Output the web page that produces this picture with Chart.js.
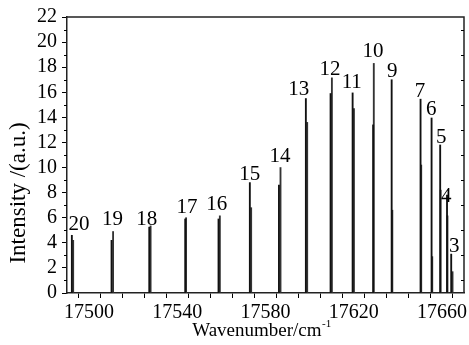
<!DOCTYPE html>
<html><head><meta charset="utf-8">
<script src="https://cdn.jsdelivr.net/npm/chart.js@4.4.0/dist/chart.umd.min.js"></script>
<style>html,body{margin:0;padding:0;background:#fff}#wrap{width:469px;height:345px}</style>
</head><body><div id="wrap"><canvas id="c" width="469" height="345"></canvas></div>
<script>
// Rotational line numbers (J) of each stick pair
const lineNames = ['20','19','18','17','16','15','14','13','12','11','10','9','7','6','5','4','3'];
// Stick A (left/first component)
const posA = [17492.2,17510.2,17527.3,17543.6,17558.7,17572.9,17586.1,17598.3,17609.5,17619.5,17628.8,17637.2,17650.3,17655.3,17659.2,17662.3,17664.2];
const intA = [4.6,4.2,5.25,5.9,5.9,8.8,8.6,15.5,15.9,15.95,13.4,17.0,15.45,13.95,11.8,7.8,3.1];
// Stick B (second component)
const posB = [17492.8,17510.9,17527.9,17544.0,17559.3,17573.5,17586.8,17598.9,17610.1,17620.1,17629.1,17637.5,17650.6,17655.6,17659.4,17662.5,17664.8];
const intB = [4.2,4.9,5.35,6.0,6.15,6.8,10.0,13.6,17.15,14.7,18.3,6.6,10.2,2.9,8.2,6.15,1.7];
// Label anchor (wavenumber, intensity of label baseline)
const labelX = [17495.4,17510.6,17526.2,17544.4,17557.9,17572.9,17586.6,17595.1,17609.2,17619.1,17628.7,17637.5,17650.0,17655.2,17659.7,17662.0,17665.6];
const labelY = [5.04,5.43,5.43,6.4,6.63,9.0,10.45,15.77,17.35,16.33,18.8,17.2,15.6,14.18,11.96,7.26,3.29];
// Axes
const xMin = 17490, xMax = 17670, xStep = 10, xLabelStep = 40, xLabelStart = 17500;
const yMin = 0, yMax = 22, yStep = 1, yLabelStep = 2;
const xTitle = 'Wavenumber/cm', xTitleSup = '-1';
const yTitle = 'Intensity /(a.u.)';

const SERIF = '"Liberation Serif", "Times New Roman", serif';

const frame = {
  id: 'frame',
  afterDraw(chart) {
    const ctx = chart.ctx, a = chart.chartArea;
    const xs = chart.scales.x, ys = chart.scales.y;
    ctx.save();
    ctx.strokeStyle = '#222';
    ctx.lineWidth = 1.5;
    ctx.beginPath();
    ctx.moveTo(a.left, a.top); ctx.lineTo(a.right, a.top); ctx.lineTo(a.right, a.bottom);
    ctx.stroke();
    ctx.lineWidth = 1;
    ctx.strokeStyle = '#000';
    // left minor ticks (outward, short)
    for (let v = yMin + 1; v < yMax; v += 2) {
      const py = Math.round(ys.getPixelForValue(v)) + 0.5;
      ctx.beginPath(); ctx.moveTo(a.left, py); ctx.lineTo(a.left - 3, py); ctx.stroke();
    }
    // right mirror ticks (inward)
    for (let v = yMin + 1; v < yMax; v += 2) {
      const py = Math.round(ys.getPixelForValue(v)) + 0.5;
      ctx.beginPath(); ctx.moveTo(a.right, py); ctx.lineTo(a.right - 3, py); ctx.stroke();
    }
    // line number labels
    ctx.fillStyle = '#000';
    ctx.font = '21px ' + SERIF;
    ctx.textAlign = 'center';
    ctx.textBaseline = 'alphabetic';
    lineNames.forEach((n, i) => {
      ctx.fillText(n, xs.getPixelForValue(labelX[i]), ys.getPixelForValue(labelY[i]));
    });
    // x title with superscript
    ctx.font = '19px ' + SERIF;
    ctx.textAlign = 'left';
    const w1 = ctx.measureText(xTitle).width;
    ctx.font = '11px ' + SERIF;
    const w2 = ctx.measureText(xTitleSup).width;
    const cx = (a.left + a.right) / 2 - 4;
    let x0 = cx - (w1 + w2) / 2;
    ctx.font = '19px ' + SERIF;
    ctx.fillText(xTitle, x0, 336);
    ctx.font = '11px ' + SERIF;
    ctx.fillText(xTitleSup, x0 + w1 + 0.5, 327);
    // y title
    ctx.font = '23px ' + SERIF;
    ctx.translate(19, 193);
    ctx.rotate(-Math.PI / 2);
    ctx.textAlign = 'center';
    ctx.textBaseline = 'middle';
    ctx.fillText(yTitle, 0, 0);
    ctx.restore();
  }
};

const mk = (p, v) => p.map((x, i) => ({x: x, y: v[i]}));

new Chart(document.getElementById('c'), {
  type: 'bar',
  data: {
    datasets: [
      {data: mk(posA, intA), backgroundColor: '#111', barThickness: 1.2, grouped: false},
      {data: mk(posB, intB), backgroundColor: '#333', barThickness: 1.2, grouped: false}
    ]
  },
  options: {
    responsive: false,
    animation: false,
    events: [],
    layout: {padding: {top: 17, right: 5, left: 0, bottom: 0}},
    plugins: {legend: {display: false}, tooltip: {enabled: false}},
    scales: {
      x: {
        type: 'linear', min: xMin, max: xMax, offset: false,
        afterFit: s => { s.height = 52; },
        grid: {display: true, drawOnChartArea: false, drawTicks: true, tickLength: 5, tickColor: '#000', tickWidth: 1},
        border: {display: true, color: '#222', width: 1.5},
        ticks: {
          stepSize: xStep, autoSkip: false, maxRotation: 0, padding: 3,
          color: '#000', font: {family: SERIF, size: 20},
          callback: v => ((v - xLabelStart) % xLabelStep === 0 && v >= xLabelStart) ? String(v) : ''
        }
      },
      y: {
        min: yMin, max: yMax,
        afterFit: s => { s.width = 67; },
        grid: {display: true, drawOnChartArea: false, drawTicks: true, tickLength: 5,
               tickColor: c => (c.tick && c.tick.value % yLabelStep === 0) ? '#000' : 'rgba(0,0,0,0)', tickWidth: 1},
        border: {display: true, color: '#222', width: 1.5},
        ticks: {
          stepSize: yStep, autoSkip: false, padding: 5,
          color: '#000', font: {family: SERIF, size: 20},
          callback: v => (v % yLabelStep === 0) ? String(v) : ''
        }
      }
    }
  },
  plugins: [frame]
});
</script>
</body></html>
